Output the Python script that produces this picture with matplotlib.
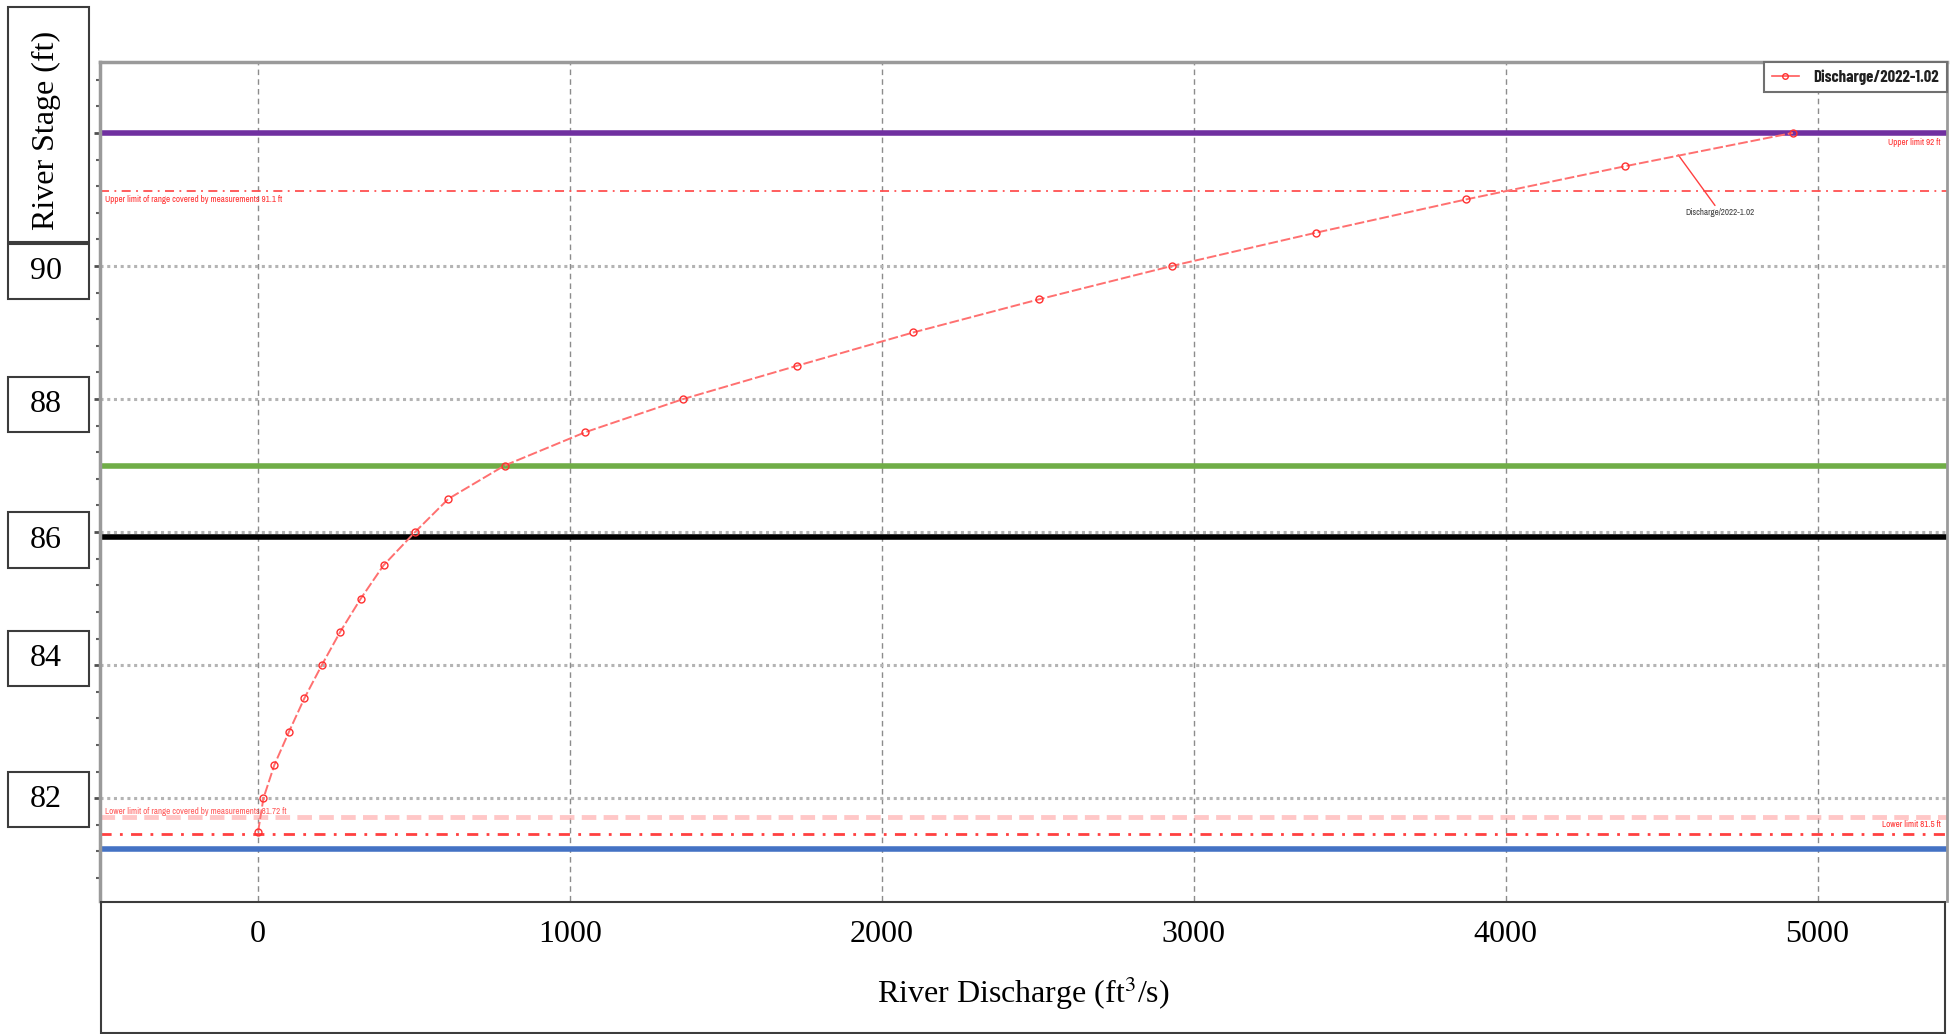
import matplotlib
matplotlib.use("Agg")
import matplotlib.pyplot as plt
import matplotlib.transforms as mtransforms
from matplotlib.patches import Rectangle
from matplotlib.lines import Line2D

# ---- data ----
discharge = [0, 17, 52, 99, 148, 204, 263, 329, 402, 503, 610, 790,
             1048, 1363, 1728, 2100, 2505, 2930, 3392, 3873, 4384, 4921]
stage = [81.5, 82.0, 82.5, 83.0, 83.5, 84.0, 84.5, 85.0, 85.5, 86.0, 86.5, 87.0,
         87.5, 88.0, 88.5, 89.0, 89.5, 90.0, 90.5, 91.0, 91.5, 92.0]
series_name = "Discharge/2022-1.02"

# reference levels (ft)
level_purple = 92.0
level_green = 87.0
level_black = 85.92
level_blue = 81.23
upper_measured = 91.12
lower_measured = 81.72
lower_limit = 81.46

x_ticks = [0, 1000, 2000, 3000, 4000, 5000]
y_ticks = [82, 84, 86, 88, 90]

serif = ["Liberation Serif", "DejaVu Serif"]
narrow = ["Archivo Narrow", "DejaVu Sans"]
plt.rcParams["mathtext.fontset"] = "stix"

fig = plt.figure(figsize=(19.59, 10.34), dpi=100)
ax = fig.add_axes([0.05105, 0.12892, 0.94267, 0.81141])

# grid
ax.set_xticks(x_ticks)
ax.set_yticks(list(range(82, 93, 2)))
ax.set_yticks([80.8 + 0.4 * i for i in range(31)], minor=True)
ax.set_xlim(-507, 5414)
ax.set_ylim(80.46, 93.07)
ax.grid(axis="x", color="#8c8c8c", lw=1, ls=(0, (4, 3)))
ax.grid(axis="y", color="#b4b4b4", lw=2.2, ls=(0, (1, 1.2)))
ax.set_axisbelow(True)

# spines / ticks
for s in ["left", "top", "right"]:
    ax.spines[s].set_color("#9a9a9a")
ax.spines["left"].set_linewidth(2.5)
ax.spines["top"].set_linewidth(2.5)
ax.spines["right"].set_linewidth(2)
ax.spines["bottom"].set_visible(False)
ax.tick_params(axis="x", length=0, labelsize=23, pad=14)
for lab in ax.get_xticklabels():
    lab.set_family(serif)
ax.tick_params(axis="y", which="major", length=4, width=2, color="#505050", labelleft=False)
ax.tick_params(axis="y", which="minor", length=3, width=1.5, color="#606060")

# red limit lines
ax.axhline(level_purple, color="#ff5050", lw=1.2, ls=(0, (5, 3, 1, 3)))
ax.axhline(upper_measured, color="#ff5050", lw=1.3, ls=(0, (5, 3, 1, 3)))
ax.axhline(lower_measured, color="#ffb0b0", lw=3.5, ls=(0, (3, 1.5)), alpha=0.7)
ax.axhline(lower_limit, color="#ff4040", lw=2, ls=(0, (4, 3, 1, 3)))

# thick reference levels
ax.axhline(level_purple, color="#7030a0", lw=4)
ax.axhline(level_green, color="#70ad47", lw=4)
ax.axhline(level_black, color="black", lw=4)
ax.axhline(level_blue, color="#4472c4", lw=4)

# rating curve
ax.plot(discharge, stage, color="#ff7070", lw=1.4, ls=(0, (5, 1.5)),
        marker="o", ms=5, mfc="none", mec="#ff3030", mew=1, zorder=5)

# small red captions
ax.text(-490, upper_measured - 0.05, "Upper limit of range covered by measurements 91.1 ft",
        color="#ff3030", fontsize=6.5, family=narrow, va="top", ha="left")
ax.text(-490, lower_measured + 0.02, "Lower limit of range covered by measurements 81.72 ft",
        color="#ff3030", fontsize=6.5, family=narrow, va="bottom", ha="left", alpha=0.8)
ax.text(5395, level_purple - 0.07, "Upper limit 92 ft",
        color="#ff3030", fontsize=6.5, family=narrow, va="top", ha="right")
ax.text(5395, lower_limit + 0.08, "Lower limit 81.5 ft",
        color="#ff3030", fontsize=6.5, family=narrow, va="bottom", ha="right")

# annotation on the curve
ax.annotate(series_name, xy=(4553, 91.67), xytext=(4577, 90.8),
            fontsize=6.5, family=narrow, color="#404040", va="center", ha="left",
            arrowprops=dict(arrowstyle="-", color="#ff4040", lw=1, shrinkA=0, shrinkB=0))

# legend
handle = Line2D([], [], color="#ff5a5a", lw=1.2, marker="o", ms=4, mfc="none", mec="#ff3030")
leg = ax.legend([handle], [series_name], loc="upper right", borderaxespad=0,
                fancybox=False, framealpha=1, edgecolor="#707070", handlelength=1.6,
                borderpad=0.45, handletextpad=0.9,
                prop=dict(family=["Barlow Condensed", "DejaVu Sans"], weight="bold", size=12))
leg.get_frame().set_linewidth(1.5)
for txt in leg.get_texts():
    txt.set_color("#202020")

# boxes round the labels (overlay)
box_kw = dict(facecolor="none", edgecolor="#3c3c3c", lw=1.5)
ylab_box = Rectangle((0.00424, 0.7663), 0.0412, 0.2266, transform=fig.transFigure,
                     facecolor="white", edgecolor="#3c3c3c", lw=1.5)
fig.add_artist(ylab_box)
fig.text(0.0236, 0.874, "River Stage (ft)", rotation=90, fontsize=23, family=serif,
         ha="center", va="center")

ytrans = mtransforms.blended_transform_factory(fig.transFigure, ax.transData)
box_nudge = [0.02, -0.10, 0.12, 0.087, 0.085]
for t, nd in zip(y_ticks, box_nudge):
    cy = t - nd
    fig.add_artist(Rectangle((0.00424, cy - 0.415), 0.0412, 0.83, transform=ytrans, **box_kw))
    fig.text(0.0236, cy, str(t), transform=ytrans, fontsize=23, family=serif,
             ha="center", va="center")

xbox = Rectangle((0.0514, 0.001), 0.9415, 0.127, transform=fig.transFigure, **box_kw)
fig.add_artist(xbox)
ax.set_xlabel(r"River Discharge (ft$^3$/s)", fontsize=23, family=serif, labelpad=18)

fig.savefig("out.png", dpi=100)
